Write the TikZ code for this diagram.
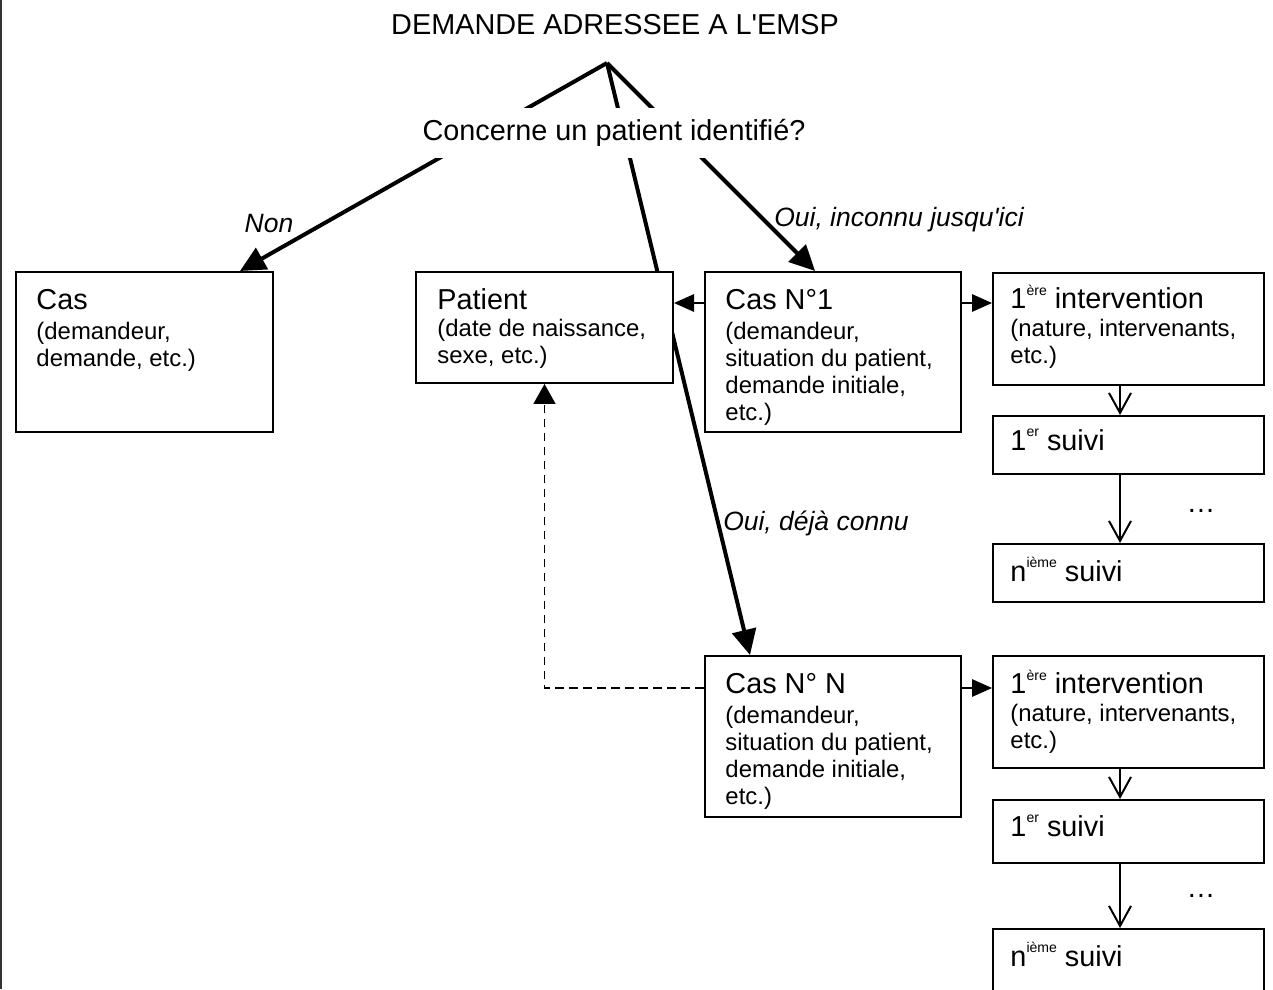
\documentclass[tikz,border=0pt]{standalone}
\usepackage{fontspec}
\setmainfont{Liberation Sans}
\usetikzlibrary{arrows.meta}
\usetikzlibrary{positioning}
\usetikzlibrary{backgrounds}

\newcommand{\grand}{\fontsize{12.3}{14}\selectfont}
\newcommand{\petit}{\fontsize{10.2}{11.6}\selectfont}
\newcommand{\etiqf}{\fontsize{11.3}{13}\selectfont\itshape}
\newcommand{\expo}[1]{\raisebox{5.6pt}{\fontsize{6}{7}\selectfont #1}}

\begin{document}
\begin{tikzpicture}[x=0.015cm,y=-0.015cm,
	boite/.style={draw, line width=0.85pt, fill=white, rectangle, anchor=north west, inner sep=0pt},
	texte/.style={anchor=north west, inner sep=0pt, align=left, font=\petit},
	ligne/.style={anchor=base west, inner sep=0pt, font=\grand},
	etiq/.style={anchor=base, inner sep=0pt, font=\etiqf},
	epais/.style={line width=1.7pt, -{Triangle[length=0.38cm,width=0.36cm]}},
	fin/.style={line width=0.85pt, -{Triangle[length=0.3cm,width=0.26cm]}},
	suite/.style={line width=0.85pt, -{Straight Barb[length=0.3cm,width=0.33cm]}},
	pointille/.style={line width=0.7pt, dash pattern=on 0.13cm off 0.08cm, -{Triangle[length=0.3cm,width=0.33cm]}}]
	\useasboundingbox (0,0) rectangle (1273,989);
	\draw[line width=0.85pt, black!80] (1,0) -- (1,989);

	\node[anchor=base, font=\grand] (titre) at (615,35) {DEMANDE ADRESSEE A L\textquotesingle EMSP};
	\coordinate (sommet) at (607,63);
	\node[anchor=base, font=\grand, fill=white, inner xsep=4pt, inner ysep=0.17cm] (question) at (614,141) {Concerne un patient identifié?};

	% boites
	\node[boite, minimum width=3.855cm, minimum height=2.4cm] (cas) at (15,271) {};
	\node[boite, minimum width=3.855cm, minimum height=1.665cm] (patient) at (415,271) {};
	\node[boite, minimum width=3.84cm, minimum height=2.4cm] (cas1) at (704,271) {};
	\node[boite, minimum width=4.065cm, minimum height=1.68cm] (int1) at (992,272) {};
	\node[boite, minimum width=4.065cm, minimum height=0.87cm] (suivi1) at (992,415) {};
	\node[boite, minimum width=4.065cm, minimum height=0.87cm] (suivin) at (992,543) {};
	\node[boite, minimum width=3.84cm, minimum height=2.415cm] (casN) at (704,655) {};
	\node[boite, minimum width=4.065cm, minimum height=1.68cm] (int1b) at (992,655) {};
	\node[boite, minimum width=4.065cm, minimum height=0.945cm] (suivi1b) at (992,799) {};
	\node[boite, minimum width=4.065cm, minimum height=1.1cm] (suivinb) at (992,928) {};

	\node[texte] (casT) at ([shift={(21,18)}]cas.north west) {{\grand Cas}\\[1pt](demandeur,\\demande, etc.)};
	\node[texte] (patientT) at ([shift={(22,17)}]patient.north west) {{\grand Patient}\\(date de naissance,\\sexe, etc.)};
	\node[texte] (cas1T) at ([shift={(21,18)}]cas1.north west) {{\grand Cas N°1}\\[1pt](demandeur,\\situation du patient,\\demande initiale,\\etc.)};
	\node[texte] (int1T) at ([shift={(18,13)}]int1.north west) {{\grand 1\expo{ère} intervention}\\(nature, intervenants,\\etc.)};
	\node[ligne] (suivi1T) at ([shift={(18,35)}]suivi1.north west) {1\expo{er} suivi};
	\node[ligne] (suivinT) at ([shift={(18,38)}]suivin.north west) {n\expo{ième} suivi};
	\node[texte] (casNT) at ([shift={(21,18)}]casN.north west) {{\grand Cas N° N}\\[1pt](demandeur,\\situation du patient,\\demande initiale,\\etc.)};
	\node[texte] (int1bT) at ([shift={(18,15)}]int1b.north west) {{\grand 1\expo{ère} intervention}\\(nature, intervenants,\\etc.)};
	\node[ligne] (suivi1bT) at ([shift={(18,37)}]suivi1b.north west) {1\expo{er} suivi};
	\node[ligne] (suivinbT) at ([shift={(18,38)}]suivinb.north west) {n\expo{ième} suivi};

	\node[font=\grand] (points1) at (1201,511) {…};
	\node[font=\grand] (points2) at (1201,896) {…};

	\node[etiq] (non) at (269,233) {Non};
	\node[etiq] (ouiA) at (899,226) {Oui, inconnu jusqu\textquotesingle ici};
	\node[etiq] (ouiB) at (816,530) {Oui, déjà connu};

	\coordinate (k1) at ([shift={(0,32)}]cas1.north west);
	\coordinate (k2) at ([shift={(0,33)}]casN.north west);
	\coordinate (col) at (1120,0);

	\begin{pgfonlayer}{background}
		\draw[epais] (sommet) -- ([shift={(225,0)}]cas.north west);
		\draw[epais] (sommet) -- ([shift={(111,0)}]cas1.north west);
		\draw[epais] (sommet) -- ([shift={(46,0)}]casN.north west);
		\draw[fin] (k1) -- (k1 -| patient.east);
		\draw[fin] (k1 -| cas1.east) -- (k1 -| int1.west);
		\draw[fin] (k2 -| casN.east) -- (k2 -| int1b.west);
		\draw[pointille] (k2) -| (patient.south);
		\draw[suite] (int1.south -| col) -- (suivi1.north -| col);
		\draw[suite] (suivi1.south -| col) -- (suivin.north -| col);
		\draw[suite] (int1b.south -| col) -- (suivi1b.north -| col);
		\draw[suite] (suivi1b.south -| col) -- (suivinb.north -| col);
	\end{pgfonlayer}
\end{tikzpicture}
\end{document}
